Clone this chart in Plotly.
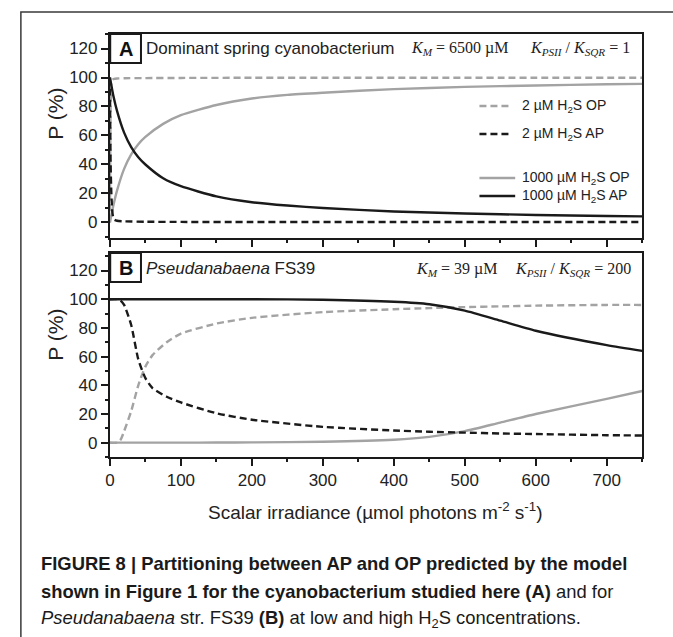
import plotly.graph_objects as go

W, H = 673, 637

# ---------------- data ----------------
# Panel A: dominant spring cyanobacterium
xa_low = [0, 1, 2, 3, 4, 6, 10, 20, 50, 100, 200, 400, 600, 750]
a_op_2 = [0, 80, 96, 97.5, 98.5, 99, 99.3, 99.5, 99.6, 99.7, 99.8, 99.8, 99.8, 99.8]
a_ap_2 = [100, 40, 20, 10, 5, 2, 1.2, 0.8, 0.5, 0.4, 0.3, 0.3, 0.3, 0.3]

xa_high = [0, 5, 10, 20, 30, 40, 50, 75, 100, 150, 200, 250, 300, 400, 500, 600, 700, 750]
a_op_1000 = [0, 12, 22, 37, 47, 54, 59, 68, 74, 81, 85.5, 88, 89.5, 92, 93.5, 94.5, 95.3, 95.6]
a_ap_1000 = [100, 87, 77, 62, 52, 45, 40, 30.5, 25, 18, 14, 11.7, 10, 7.6, 6.2, 5.2, 4.5, 4.2]

# Panel B: Pseudanabaena FS39
xb = [0, 10, 15, 20, 30, 40, 50, 60, 80, 100, 150, 200, 300, 400, 450, 500, 550, 600, 700, 750]
b_op_2 = [0, 0, 2, 8, 22, 40, 53, 61, 70, 76, 83, 87, 91, 93, 93.8, 94.5, 95, 95.5, 96, 96]
b_ap_2 = [100, 100, 99, 96, 82, 58, 45, 38, 32, 28, 20.5, 16, 11, 8.5, 7.6, 7, 6.4, 6, 5.2, 5]
b_op_1000 = [0, 0, 0, 0, 0, 0, 0, 0, 0, 0, 0.1, 0.2, 0.6, 2, 4, 8, 14, 20, 30.5, 36]
b_ap_1000 = [100, 100, 100, 100, 100, 100, 100, 100, 100, 100, 100, 100, 99.6, 98.2, 96.5, 92, 85, 78, 68, 64]

x_ticks = [0, 100, 200, 300, 400, 500, 600, 700]
y_ticks = [0, 20, 40, 60, 80, 100, 120]

legend_labels = ["2 µM H<sub>2</sub>S OP", "2 µM H<sub>2</sub>S AP",
                 "1000 µM H<sub>2</sub>S OP", "1000 µM H<sub>2</sub>S AP"]

# ---------------- styling ----------------
GREY = "#a3a3a3"
BLACK = "#1a1a1a"
DASH = "7px,4px"
FONT = "Liberation Sans, Arial, sans-serif"
SERIF = "Liberation Serif, Times New Roman, serif"


def px(x):
    return x / W


def py(y):
    return 1 - y / H


fig = go.Figure()


def add(x, y, color, dash, xa, ya):
    fig.add_trace(go.Scatter(x=x, y=y, mode="lines", xaxis=xa, yaxis=ya,
                             line=dict(color=color, width=2.4, dash=dash, shape="spline", smoothing=0.6),
                             showlegend=False, hoverinfo="skip"))


add(xa_high, a_op_1000, GREY, "solid", "x", "y")
add(xa_low, a_op_2, GREY, DASH, "x", "y")
add(xa_high, a_ap_1000, BLACK, "solid", "x", "y")
add(xa_low, a_ap_2, BLACK, DASH, "x", "y")

add(xb, b_op_1000, GREY, "solid", "x2", "y2")
add(xb, b_op_2, GREY, DASH, "x2", "y2")
add(xb, b_ap_1000, BLACK, "solid", "x2", "y2")
add(xb, b_ap_2, BLACK, DASH, "x2", "y2")

x_dom = [px(105.7), px(642)]
axis_common = dict(showline=True, linecolor=BLACK, linewidth=2, mirror=True,
                   showgrid=False, zeroline=False, ticks="outside", tickcolor=BLACK,
                   tickwidth=1.5, ticklen=7,
                   tickfont=dict(family=FONT, size=17, color="#222"))

fig.update_layout(
    width=W, height=H, margin=dict(l=0, r=0, t=0, b=0),
    paper_bgcolor="white", plot_bgcolor="white",
    xaxis=dict(domain=x_dom, anchor="y", range=[0, 750], tickvals=x_ticks,
               showticklabels=False,
               minor=dict(dtick=50, tick0=0, ticks="outside", ticklen=3, tickcolor=BLACK),
               **axis_common),
    yaxis=dict(domain=[py(238), py(34)], anchor="x", range=[-10.7, 130],
               tickvals=y_ticks,
               minor=dict(dtick=10, tick0=0, ticks="outside", ticklen=3, tickcolor=BLACK),
               **axis_common),
    xaxis2=dict(domain=x_dom, anchor="y2", range=[0, 750], tickvals=x_ticks,
                minor=dict(dtick=50, tick0=0, ticks="outside", ticklen=3, tickcolor=BLACK),
                **axis_common),
    yaxis2=dict(domain=[py(457), py(253)], anchor="x2", range=[-10, 132.2],
                tickvals=y_ticks,
                minor=dict(dtick=10, tick0=0, ticks="outside", ticklen=3, tickcolor=BLACK),
                **axis_common),
)

shapes = []
ann = []

# outer frame
shapes.append(dict(type="rect", xref="paper", yref="paper", x0=px(16), x1=px(720),
                   y0=py(700), y1=py(12), line=dict(color="#3a3a3a", width=1.5)))

# panel letter boxes
for (t, top) in [("A", 34), ("B", 253)]:
    shapes.append(dict(type="rect", xref="paper", yref="paper", x0=px(106), x1=px(137),
                       y0=py(top + 29), y1=py(top), line=dict(color=BLACK, width=2),
                       fillcolor="white"))
    ann.append(dict(text="<b>%s</b>" % t, x=px(121.5), y=py(top + 15), xref="paper", yref="paper",
                    showarrow=False, font=dict(family=FONT, size=20, color="#111"),
                    xanchor="center", yanchor="middle"))

# panel titles
ann.append(dict(text="Dominant spring cyanobacterium", x=px(140), y=py(48), xref="paper", yref="paper",
                showarrow=False, xanchor="left", yanchor="middle",
                font=dict(family=FONT, size=17, color="#222")))
ann.append(dict(text="<i>K</i><sub><i>M</i></sub> = 6500 µM", x=px(407), y=py(49), xref="paper",
                yref="paper", showarrow=False, xanchor="left", yanchor="middle",
                font=dict(family=SERIF, size=16, color="#222")))
ann.append(dict(text="<i>K</i><sub><i>PSII</i></sub> / <i>K</i><sub><i>SQR</i></sub> = 1", x=px(632),
                y=py(49), xref="paper", yref="paper", showarrow=False, xanchor="right",
                yanchor="middle", font=dict(family=SERIF, size=16, color="#222")))

ann.append(dict(text="<i>Pseudanabaena</i> FS39", x=px(140), y=py(268), xref="paper", yref="paper",
                showarrow=False, xanchor="left", yanchor="middle",
                font=dict(family=FONT, size=17, color="#222")))
ann.append(dict(text="<i>K</i><sub><i>M</i></sub> = 39 µM", x=px(412), y=py(269), xref="paper",
                yref="paper", showarrow=False, xanchor="left", yanchor="middle",
                font=dict(family=SERIF, size=16, color="#222")))
ann.append(dict(text="<i>K</i><sub><i>PSII</i></sub> / <i>K</i><sub><i>SQR</i></sub> = 200", x=px(633),
                y=py(269), xref="paper", yref="paper", showarrow=False, xanchor="right",
                yanchor="middle", font=dict(family=SERIF, size=16, color="#222")))

# legend (manual)
leg_y = [106, 134, 178, 196]
leg_style = [(GREY, "dash"), (BLACK, "dash"), (GREY, "solid"), (BLACK, "solid")]
for lab, yy, (c, d), x1 in zip(legend_labels, leg_y, leg_style, [508, 508, 514, 514]):
    shapes.append(dict(type="line", xref="paper", yref="paper", x0=px(478), x1=px(x1),
                       y0=py(yy), y1=py(yy),
                       line=dict(color=c, width=2.4, dash=DASH if d == "dash" else "solid")))
    ann.append(dict(text=lab, x=px(519), y=py(yy), xref="paper", yref="paper", showarrow=False,
                    xanchor="left", yanchor="middle", font=dict(family=FONT, size=14, color="#222")))

# axis titles
for yc in [114, 335]:
    ann.append(dict(text="P (%)", x=px(50), y=py(yc), xref="paper", yref="paper", showarrow=False,
                    textangle=-90, xanchor="center", yanchor="middle",
                    font=dict(family=FONT, size=21, color="#222")))
ann.append(dict(text="Scalar irradiance (µmol photons m<sup>-2</sup> s<sup>-1</sup>)", x=px(373),
                y=py(511), xref="paper", yref="paper", showarrow=False, xanchor="center",
                yanchor="middle", font=dict(family=FONT, size=19, color="#222")))

# caption
cap = [
    "<b>FIGURE 8 | Partitioning between AP and OP predicted by the model</b>",
    "<b>shown in Figure 1 for the cyanobacterium studied here (A)</b> and for",
    "<i>Pseudanabaena</i> str. FS39 <b>(B)</b> at low and high H<sub>2</sub>S concentrations.",
]
for line, yy in zip(cap, [563, 591, 619]):
    ann.append(dict(text=line, x=px(34), y=py(yy), xref="paper", yref="paper", showarrow=False,
                    xanchor="left", yanchor="middle",
                    font=dict(family=FONT, size=18.4, color="#1a1a1a")))

fig.update_layout(shapes=shapes, annotations=ann)
fig.write_html("out.html")
